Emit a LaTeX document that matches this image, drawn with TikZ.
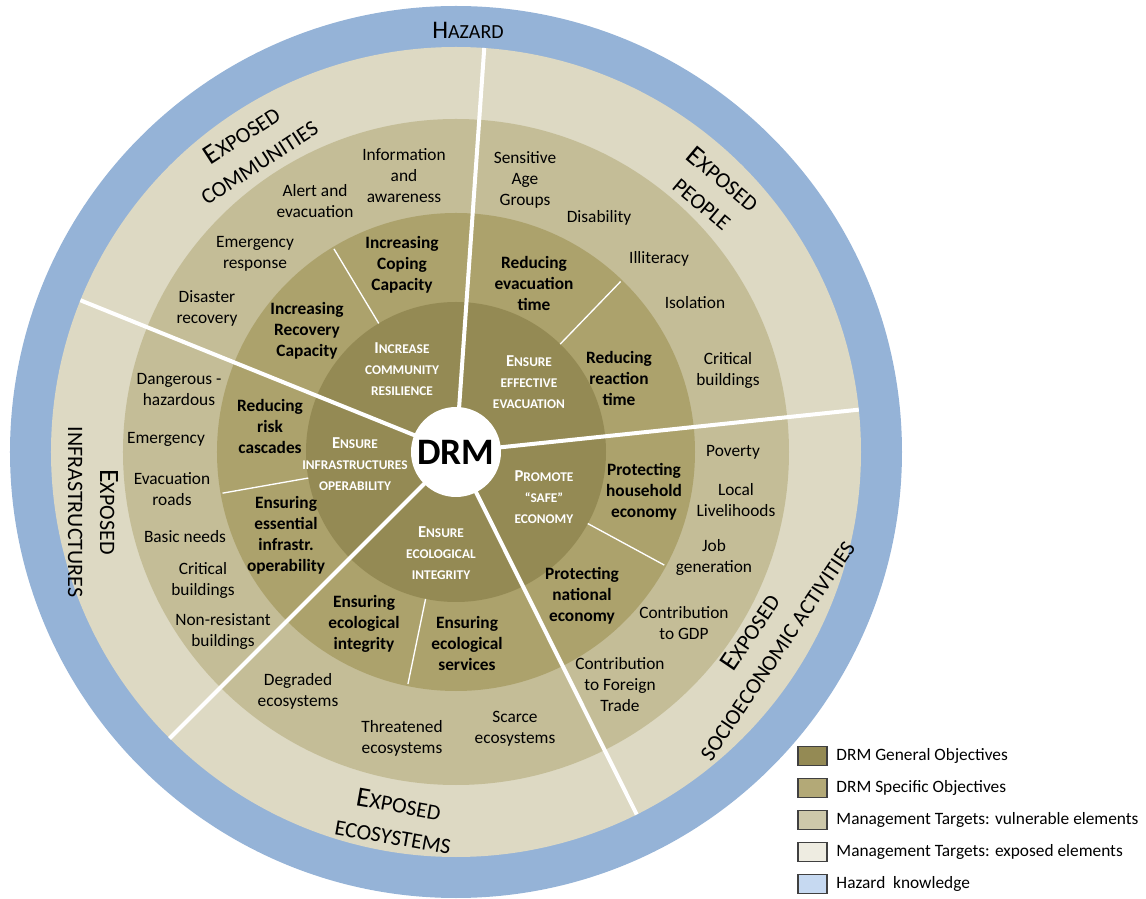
\documentclass[tikz,border=0pt]{standalone}
\usepackage{fontspec}
\setmainfont{Carlito}
\usepackage{tikz}
\usetikzlibrary{positioning}

\definecolor{hazardblue}{HTML}{95B3D7}
\definecolor{exposedtan}{HTML}{DDD9C3}
\definecolor{vulntan}{HTML}{C4BD97}
\definecolor{spectan}{HTML}{ACA26C}
\definecolor{gentan}{HTML}{948A54}
\definecolor{legspec}{HTML}{B3A977}
\definecolor{legvuln}{HTML}{CDC8AA}
\definecolor{legexp}{HTML}{EEECE1}
\definecolor{leghaz}{HTML}{C6D9F1}
\definecolor{legborder}{HTML}{404040}

% fake small caps: big first letter, smaller capitals after it
\newcommand{\exsc}[2]{{\fontsize{21}{24}\selectfont #1}#2}
\newcommand{\gensc}[2]{{\fontsize{12.5}{15.75}\selectfont #1}#2}

\tikzset{
  vultext/.style={align=center, font=\fontsize{13}{15.75}\selectfont, inner sep=1pt},
  specobj/.style={align=center, font=\bfseries\fontsize{13}{15.75}\selectfont, inner sep=1pt},
  genobj/.style={align=center, text=white, font=\bfseries\fontsize{10}{15.75}\selectfont, inner sep=1pt},
  exposedlbl/.style={align=center, font=\fontsize{16.5}{24}\selectfont, inner sep=1pt},
  divider/.style={white, line width=3pt},
  subdivider/.style={white, line width=1pt},
  legbox/.style={draw=legborder, line width=0.8pt, minimum width=21.75pt, minimum height=14.25pt, inner sep=0pt},
  legtext/.style={font=\fontsize{13}{15}\selectfont, inner sep=1pt},
}

\begin{document}
\begin{tikzpicture}[x=0.75pt, y=0.75pt]
  \useasboundingbox (-456,-447) rectangle (690,452);

  % rings
  \fill[hazardblue] (0,0) circle (446);
  \fill[exposedtan] (0,0) circle (405);
  \fill[vulntan] (0,0) circle (333);
  \fill[spectan] (0,0) circle (239);
  \fill[gentan] (0,0) circle (150);

  % sectors
  \foreach \a in {86, 6, -63.5, 225, 158}
    \draw[divider] (0,0) -- (\a:405);
  \foreach \a in {121, 46, -28.5, 258.3, 190}
    \draw[subdivider] (\a:150) -- (\a:237);

  \node[circle, fill=white, minimum size=67.5pt, inner sep=0pt, font=\bfseries\fontsize{28}{30}\selectfont] (drm) at (0,0) {DRM};

  % hazard ring
  \node[exposedlbl, font=\fontsize{15}{20}\selectfont] (hazard) at (12,422) {{\fontsize{19}{20}\selectfont H}AZARD};

  % exposed elements
  \node[exposedlbl, rotate=33] (excomm) at (-206,304) {\exsc{E}{XPOSED}\\COMMUNITIES};
  \node[exposedlbl, rotate=-40] (expeople) at (257,261) {\exsc{E}{XPOSED}\\PEOPLE};
  \node[exposedlbl, rotate=56] (exsocio) at (307,-189) {\exsc{E}{XPOSED}\\SOCIOECONOMIC ACTIVITIES};
  \node[exposedlbl, rotate=-10] (execo) at (-60,-368) {\exsc{E}{XPOSED}\\ECOSYSTEMS};
  \node[exposedlbl, rotate=-90] (exinfra) at (-363,-60) {\exsc{E}{XPOSED}\\INFRASTRUCTURES};

  % vulnerable elements
  \node[vultext] (infoaw) at (-52,276) {Information\\and\\awareness};
  \node[vultext] (alert) at (-141,251) {Alert and\\evacuation};
  \node[vultext] (emresp) at (-201,198) {Emergency\\response};
  \node[vultext] (disrec) at (-249,144) {Disaster\\recovery};
  \node[vultext] (sensitive) at (69,272) {Sensitive\\Age\\Groups};
  \node[vultext] (disab) at (143,234) {Disability};
  \node[vultext] (illit) at (203,193) {Illiteracy};
  \node[vultext] (isol) at (239,149) {Isolation};
  \node[vultext] (critbA) at (272,82) {Critical\\buildings};
  \node[vultext] (poverty) at (277,0) {Poverty};
  \node[vultext] (liveli) at (280,-48) {Local\\Livelihoods};
  \node[vultext] (jobgen) at (258,-105) {Job\\generation};
  \node[vultext] (gdp) at (228,-171) {Contribution\\to GDP};
  \node[vultext] (foreign) at (164,-233) {Contribution\\to Foreign\\Trade};
  \node[vultext] (scarce) at (59,-277) {Scarce\\ecosystems};
  \node[vultext] (threat) at (-54,-286) {Threatened\\ecosystems};
  \node[vultext] (degr) at (-158,-239) {Degraded\\ecosystems};
  \node[vultext] (nonres) at (-233,-180) {Non-resistant\\buildings};
  \node[vultext] (critbB) at (-253,-128) {Critical\\buildings};
  \node[vultext] (basic) at (-271,-85) {Basic needs};
  \node[vultext] (evroads) at (-284,-37) {Evacuation\\roads};
  \node[vultext] (emerg) at (-290,13) {Emergency};
  \node[vultext] (danger) at (-277,62) {Dangerous -\\hazardous};

  % specific objectives
  \node[specobj] (coping) at (-54,187) {Increasing\\Coping\\Capacity};
  \node[specobj] (recov) at (-149,121) {Increasing\\Recovery\\Capacity};
  \node[specobj] (evtime) at (78,169) {Reducing\\evacuation\\time};
  \node[specobj] (reaction) at (163,74) {Reducing\\reaction\\time};
  \node[specobj] (household) at (188,-40) {Protecting\\household\\economy};
  \node[specobj] (national) at (126,-144) {Protecting\\national\\economy};
  \node[specobj] (ecoserv) at (11,-191) {Ensuring\\ecological\\services};
  \node[specobj] (ecointeg) at (-92,-172) {Ensuring\\ecological\\integrity};
  \node[specobj] (essential) at (-170,-83) {Ensuring\\essential\\infrastr.\\operability};
  \node[specobj] (cascades) at (-186,26) {Reducing\\risk\\cascades};

  % general objectives
  \node[genobj] (resil) at (-54,83) {\gensc{I}{NCREASE}\\COMMUNITY\\RESILIENCE};
  \node[genobj] (evac) at (73,70) {\gensc{E}{NSURE}\\EFFECTIVE\\EVACUATION};
  \node[genobj] (safe) at (88,-45) {\gensc{P}{ROMOTE}\\``SAFE''\\ECONOMY};
  \node[genobj] (ecol) at (-15,-101) {\gensc{E}{NSURE}\\ECOLOGICAL\\INTEGRITY};
  \node[genobj] (infra) at (-101,-12) {\gensc{E}{NSURE}\\INFRASTRUCTURES\\OPERABILITY};

  % legend
  \node[legbox, fill=gentan] (lg1) at (356.5,-304) {};
  \node[legbox, fill=legspec, below=9pt of lg1] (lg2) {};
  \node[legbox, fill=legvuln, below=9pt of lg2] (lg3) {};
  \node[legbox, fill=legexp, below=9pt of lg3] (lg4) {};
  \node[legbox, fill=leghaz, below=9pt of lg4] (lg5) {};
  \node[legtext, right=5.5pt of lg1] (lgt1) {DRM General Objectives};
  \node[legtext, right=5.5pt of lg2] (lgt2) {DRM Specific Objectives};
  \node[legtext, right=5.5pt of lg3] (lgt3) {Management Targets: vulnerable elements};
  \node[legtext, right=5.5pt of lg4] (lgt4) {Management Targets: exposed elements};
  \node[legtext, right=5.5pt of lg5] (lgt5) {Hazard\ \ knowledge};
\end{tikzpicture}
\end{document}
